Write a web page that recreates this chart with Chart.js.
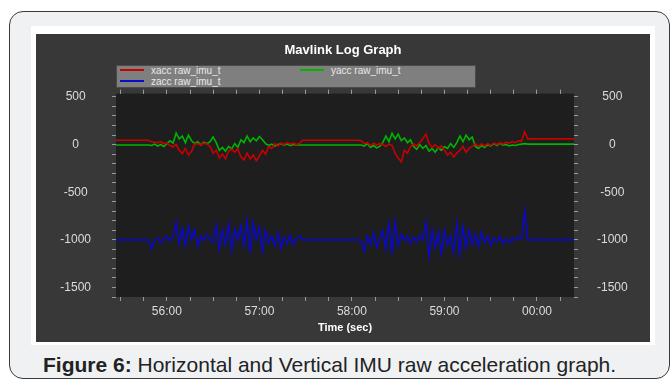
<!DOCTYPE html>
<html lang="en">
<head>
<meta charset="UTF-8">
<title>Mavlink Log Graph</title>
<script src="https://cdn.jsdelivr.net/npm/chart.js@4"></script>
<style>
  body { margin: 0; background: #fff; font-family: "Liberation Sans", Arial, sans-serif; }
  #card { position: absolute; left: 9px; top: 11px; width: 661px; height: 368px; box-sizing: border-box;
          border: 1.5px solid #3a3a3a; border-radius: 14px; background: #f0f1f3; }
  #frame { position: absolute; left: 31px; top: 26px; width: 624px; height: 319px; background: #fff; }
  #panel { position: absolute; left: 36px; top: 34px; width: 614px; height: 308px; background: #383838; }
  #legend { position: absolute; left: 116px; top: 65px; width: 360px; height: 23px; box-sizing: border-box;
            background: #7f7f7f; border: 1px solid #4a4a4a; }
  .item { position: absolute; height: 11px; font-size: 10px; line-height: 11px; color: #e8e8e8; white-space: nowrap; }
  .swatch { position: absolute; left: 0; top: 4px; width: 24px; height: 2px; }
  .item span { position: absolute; left: 31px; top: 0; }
  #caption { position: absolute; left: 43px; top: 353px; font-size: 21px; color: #222; white-space: nowrap; }
</style>
</head>
<body>
<div id="card"></div>
<div id="frame"></div>
<div id="panel"><canvas id="graph" width="614" height="308"></canvas></div>
<div id="legend"></div>
<div id="caption"><b>Figure 6:</b> Horizontal and Vertical IMU raw acceleration graph.</div>
<script>
// time in seconds, 0 = 56:00
var times = [-33, -12,
  -10, -8, -6, -4, -2, 0, 2, 4, 6, 8,
  10, 12, 14, 16, 18, 20, 22, 24, 26, 28,
  30, 32, 34, 36, 38, 40, 42, 44, 46, 48,
  50, 52, 54, 56, 58, 60, 62, 64, 66, 68,
  70, 72, 74, 76, 78, 80, 82, 84, 86, 88,
  124, 126, 128, 130, 132, 134, 136, 138, 140, 142,
  144, 146, 148, 150, 152, 154, 156, 158, 160, 162,
  164, 166, 168, 170, 172, 174, 176, 178, 180, 182,
  184, 186, 188, 190, 192, 194, 196, 198, 200, 202,
  204, 206, 208, 210, 212, 214, 216, 218, 220, 222,
  224, 226, 228, 230, 232, 234, 264];

var xacc = [45, 45,
  30, 25, 20, 30, 10, 15, -10, -25, 0, -60,
  -95, -40, -110, -70, 5, 10, -5, 15, 5, -20,
  -90, -60, -140, -100, -150, -70, -50, -80, -45, -130,
  -160, -90, -150, -110, -170, -120, -60, -100, -20, -40,
  10, -15, 15, 0, 20, 5, 15, 0, 10, 45,
  45, 40, 10, 20, -10, 15, -5, 10, 0, -20,
  5, -10, -90, -140, -180, -60, -90, -20, 5, -15,
  20, 60, 110, 10, -30, 0, -40, -15, -60, -110,
  -80, -130, -90, -60, -20, -80, -40, -20, 10, -20,
  5, -15, 10, -10, 15, 0, 20, 5, 25, 15,
  30, 20, 40, 35, 135, 60, 60];

var yacc = [-5, -5,
  -10, 5, -15, 0, -20, 10, 40, 15, 120, 60,
  90, 20, 100, 40, 10, 30, -5, 25, 10, 30,
  80, 20, -60, -30, -70, -20, -45, 10, -30, 50,
  20, 90, 30, 70, 40, 85, 50, 10, -10, 5,
  -15, 0, 10, -5, 5, -10, 0, -5, -5, -5,
  -5, -5, -15, 10, -30, -10, -35, -20, 20, 90,
  30, 120, 60, 110, 40, 70, 20, 50, -20, -50,
  0, -40, -10, -70, -40, -80, -30, -60, -20, -40,
  10, -30, 20, 90, 30, 100, 50, 80, -20, -40,
  -10, -30, 0, -15, 10, -10, 15, -5, 0, -15,
  -5, -10, 0, 5, 10, 5, 5];

var zacc = [-1000, -1000,
  -1095, -1010, -980, -1030, -990, -960, -1010, -970, -810, -1040,
  -880, -1060, -860, -1000, -890, -1070, -960, -1010, -940, -990,
  -1030, -845, -1100, -900, -1050, -830, -1110, -880, -1000, -850,
  -1060, -800, -1140, -820, -1000, -870, -1120, -900, -1030, -960,
  -1060, -930, -1090, -970, -1040, -950, -1050, -990, -960, -1000,
  -1000, -1010, -1120, -960, -1050, -930, -1080, -990, -900, -1100,
  -830, -1150, -810, -1060, -940, -1010, -960, -1040, -970, -1020,
  -950, -1000, -810, -1175, -900, -1080, -920, -1140, -900, -1060,
  -960, -1130, -830, -1155, -860, -1080, -900, -1050, -940, -1070,
  -920, -1030, -960, -1060, -980, -1020, -960, -1040, -990, -1030,
  -980, -1010, -970, -990, -700, -1000, -1000];

var seriesNames = ['xacc raw_imu_t', 'yacc raw_imu_t', 'zacc raw_imu_t'];
var seriesColors = ['#c80000', '#00b400', '#0a0ac8'];
var yTickValues = [500, 0, -500, -1000, -1500];
var xTickLabels = ['56:00', '57:00', '58:00', '59:00', '00:00'];

var FONT = '"Liberation Sans", Arial, sans-serif';
Chart.defaults.font.family = FONT;

function points(vals) {
  return times.map(function (t, i) { return { x: t, y: vals[i] }; });
}

var plotBg = {
  id: 'plotBg',
  beforeDraw: function (c) {
    var a = c.chartArea, ctx = c.ctx;
    ctx.save();
    ctx.fillStyle = '#1e1e1e';
    ctx.fillRect(a.left, a.top, a.right - a.left, a.bottom - a.top);
    ctx.restore();
  }
};

var tickGrid = { drawOnChartArea: false, tickLength: 4, color: '#9a9a9a' };

function yAxis(pos, width, pad) {
  return {
    type: 'linear', position: pos, min: -1600, max: 535,
    afterFit: function (s) { s.width = width; },
    ticks: {
      stepSize: 100, autoSkip: false, includeBounds: false, crossAlign: 'center', padding: pad,
      color: '#dcdcdc', font: { size: 12 },
      callback: function (v) { return yTickValues.indexOf(v) >= 0 ? String(v) : ''; }
    },
    grid: tickGrid, border: { display: false }
  };
}

var series = [xacc, yacc, zacc];
var datasets = series.map(function (vals, i) {
  return {
    label: seriesNames[i], data: points(vals), borderColor: seriesColors[i],
    borderWidth: 1.6, pointRadius: 0, tension: 0, xAxisID: 'x', yAxisID: 'y'
  };
});

new Chart(document.getElementById('graph'), {
  type: 'line',
  data: { datasets: datasets },
  plugins: [plotBg],
  options: {
    responsive: false,
    animation: false,
    layout: { padding: 0 },
    plugins: {
      legend: { display: false },
      tooltip: { enabled: false },
      title: {
        display: true, text: 'Mavlink Log Graph', color: '#ffffff',
        font: { size: 13, weight: 'bold' }, padding: { top: 9, bottom: 35 }
      }
    },
    scales: {
      x: {
        type: 'linear', position: 'bottom', min: -33, max: 264,
        afterFit: function (s) { s.height = 45; },
        ticks: {
          stepSize: 15, autoSkip: false, includeBounds: false, maxRotation: 0, padding: 3,
          color: '#dcdcdc', font: { size: 12 },
          callback: function (v) { return v % 60 === 0 ? xTickLabels[v / 60] : ''; }
        },
        grid: tickGrid, border: { display: false },
        title: { display: true, text: 'Time (sec)', color: '#ffffff', font: { size: 11, weight: 'bold' }, padding: { top: 0, bottom: 7 } }
      },
      x2: {
        type: 'linear', position: 'top', min: -33, max: 264,
        afterFit: function (s) { s.height = 0; },
        ticks: { display: false, stepSize: 15, includeBounds: false, autoSkip: false },
        grid: tickGrid, border: { display: false }
      },
      y: yAxis('left', 80, 21),
      y2: yAxis('right', 76, 19)
    }
  }
});

// legend box, built from the series
var legend = document.getElementById('legend');
var spots = [[3, -1], [183, -1], [3, 10]];
seriesNames.forEach(function (name, i) {
  var it = document.createElement('div');
  it.className = 'item';
  it.style.left = spots[i][0] + 'px';
  it.style.top = spots[i][1] + 'px';
  it.innerHTML = '<div class="swatch" style="background:' + seriesColors[i] + '"></div><span>' + name + '</span>';
  legend.appendChild(it);
});
</script>
</body>
</html>
